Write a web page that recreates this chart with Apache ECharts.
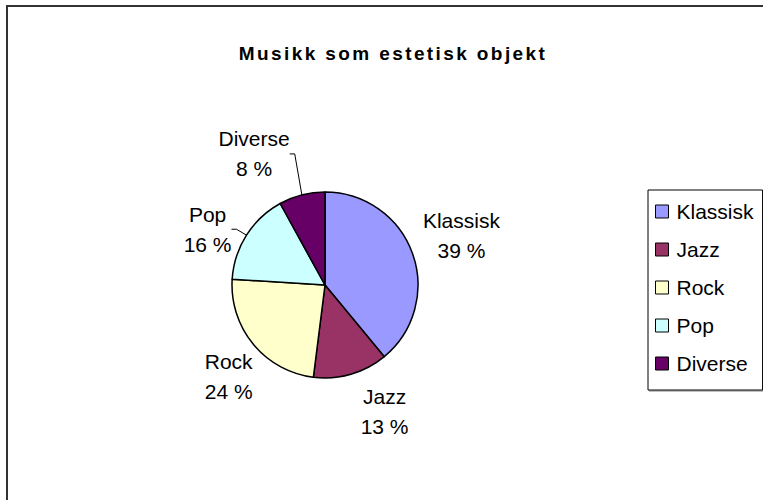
<!DOCTYPE html>
<html><head><meta charset="utf-8">
<script src="https://cdn.jsdelivr.net/npm/echarts@6/dist/echarts.min.js"></script>
<style>html,body{margin:0;padding:0;background:#fff}#chart{width:763px;height:500px}</style>
</head><body><div id="chart"></div>
<script>
// Slice data
const categories = ['Klassisk', 'Jazz', 'Rock', 'Pop', 'Diverse'];
const shares = [39, 13, 24, 16, 8];
const sliceColors = ['#9999FF', '#993366', '#FFFFCC', '#CCFFFF', '#660066'];
const leaderLines = [false, false, false, true, true];
// Label placement per slice: [angle offset from the slice's mid-angle (deg), distance from pie centre (px)]
const labelPlacement = [[0, 145], [-9, 140], [-4, 133], [-7, 130], [-14, 149]];

const TITLE = 'Musikk som estetisk objekt';
const PIE_CENTER = [325, 285];
const PIE_RADIUS = 93;
const FONT = '"Liberation Sans", Arial, sans-serif';

const total = shares.reduce((a, b) => a + b, 0);
const midAngles = [];
let acc = 0;
shares.forEach(v => { midAngles.push((acc + v / 2) / total * 360); acc += v; });

const chart = echarts.init(document.getElementById('chart'), null, { renderer: 'svg' });
chart.setOption({
  animation: false,
  backgroundColor: '#fff',
  title: {
    text: TITLE, left: 388, top: 39, textAlign: 'center',
    textStyle: { fontFamily: FONT, fontSize: 19, fontWeight: 'bold', color: '#000' }
  },
  legend: {
    orient: 'vertical', left: 648, top: 190, padding: [11, 9, 16, 7],
    itemWidth: 13, itemHeight: 13, itemGap: 17, icon: 'rect',
    backgroundColor: '#fff', borderColor: '#000', borderWidth: 1,
    shadowColor: '#808080', shadowOffsetX: 1, shadowOffsetY: 1, shadowBlur: 0,
    itemStyle: { borderColor: '#000', borderWidth: 1 },
    textStyle: { fontFamily: FONT, fontSize: 21, color: '#000', lineHeight: 20, padding: [0, 0, 0, 3] },
    data: categories
  },
  graphic: [{
    type: 'rect', silent: true, z: -1,
    shape: { x: 7, y: 6, width: 820, height: 560 },
    style: { fill: 'none', stroke: '#333', lineWidth: 2 }
  }],
  series: [{
    type: 'pie', center: PIE_CENTER, radius: PIE_RADIUS, startAngle: 90, clockwise: true, silent: true,
    itemStyle: { borderColor: '#000', borderWidth: 1.5 },
    label: {
      show: true, position: 'outside', formatter: '{b}\n{c} %',
      fontFamily: FONT, fontSize: 21, lineHeight: 30, color: '#000', align: 'center'
    },
    labelLine: { show: false, length: 10, length2: 5, lineStyle: { color: '#000', width: 1 } },
    labelLayout: p => {
      const i = p.dataIndex;
      const a = (midAngles[i] + labelPlacement[i][0]) * Math.PI / 180;
      const d = labelPlacement[i][1];
      return {
        x: PIE_CENTER[0] + d * Math.sin(a),
        y: PIE_CENTER[1] - d * Math.cos(a),
        align: 'center', verticalAlign: 'middle'
      };
    },
    data: categories.map((n, i) => ({
      name: n, value: shares[i],
      itemStyle: { color: sliceColors[i] },
      labelLine: { show: leaderLines[i] }
    }))
  }]
});

// Spread the title letters out
document.querySelectorAll('#chart svg text').forEach(t => {
  if (t.textContent === TITLE) t.setAttribute('letter-spacing', '2.4');
});
</script>
</body></html>
